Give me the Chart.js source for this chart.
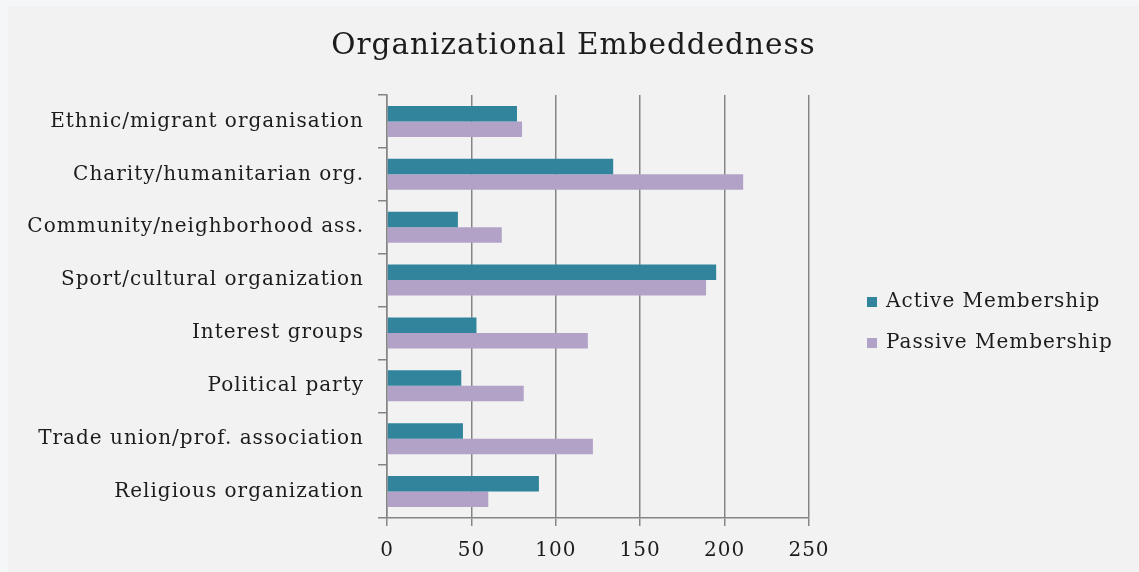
<!DOCTYPE html>
<html>
<head>
<meta charset="utf-8">
<title>Organizational Embeddedness</title>
<script src="https://cdn.jsdelivr.net/npm/chart.js@4"></script>
<style>
  html, body { margin: 0; padding: 0; background: #f5f6f8; }
  #frame { position: absolute; left: 8px; top: 6px; width: 1131px; height: 566px; background: #f2f2f2; }
</style>
</head>
<body>
<div id="frame"><canvas id="chart" width="1131" height="566"></canvas></div>
<script>
const categories = [
  "Ethnic/migrant organisation",
  "Charity/humanitarian org.",
  "Community/neighborhood ass.",
  "Sport/cultural organization",
  "Interest groups",
  "Political party",
  "Trade union/prof. association",
  "Religious organization",
];
const activeMembership = [77, 134, 42, 195, 53, 44, 45, 90];
const passiveMembership = [80, 211, 68, 189, 119, 81, 122, 60];
const xTicks = [0, 50, 100, 150, 200, 250];

const serif = '"DejaVu Serif", "Liberation Serif", serif';
const ink = "#1c1c1c";
const gridGray = "#858585";

// wider letter spacing for all canvas text
const spacedText = {
  id: "spacedText",
  beforeDraw(chart) {
    chart.ctx.letterSpacing = "1px";
  },
};

// centre the title over the whole canvas, not just the plot side
const wideTitle = {
  id: "wideTitle",
  afterLayout(chart) {
    if (chart.titleBlock) {
      chart.titleBlock.left = 0;
      chart.titleBlock.right = chart.width;
    }
  },
};

// legend on the right, drawn next to the plot
const sideLegend = {
  id: "sideLegend",
  afterDraw(chart) {
    const ctx = chart.ctx;
    const x = chart.chartArea.right + 58;
    ctx.save();
    ctx.letterSpacing = "1px";
    ctx.font = "20px " + serif;
    ctx.textBaseline = "middle";
    chart.data.datasets.forEach((ds, i) => {
      const y = 296 + i * 41;
      ctx.fillStyle = ds.backgroundColor;
      ctx.fillRect(x, y - 5, 10, 10);
      ctx.fillStyle = ink;
      ctx.fillText(ds.label, x + 19, y);
    });
    ctx.restore();
  },
};

new Chart(document.getElementById("chart"), {
  type: "bar",
  data: {
    labels: categories,
    datasets: [
      {
        label: "Active Membership",
        data: activeMembership,
        backgroundColor: "#31849b",
        barPercentage: 1,
        categoryPercentage: 0.588,
      },
      {
        label: "Passive Membership",
        data: passiveMembership,
        backgroundColor: "#b3a2c7",
        barPercentage: 1,
        categoryPercentage: 0.588,
      },
    ],
  },
  options: {
    indexAxis: "y",
    responsive: false,
    animation: false,
    layout: { padding: { right: 330, left: 0, top: 0, bottom: 0 } },
    plugins: {
      legend: { display: false },
      tooltip: { enabled: false },
      title: {
        display: true,
        text: "Organizational Embeddedness",
        color: ink,
        font: { family: serif, size: 29.5, weight: "normal" },
        padding: { top: 23, bottom: 30.6 },
      },
    },
    scales: {
      x: {
        min: 0,
        max: 250,
        afterFit: (s) => { s.height = 54; },
        afterBuildTicks: (s) => { s.ticks = xTicks.map((v) => ({ value: v })); },
        grid: { color: gridGray, tickLength: 8, lineWidth: 1.5 },
        border: { color: gridGray, width: 1.5 },
        ticks: { color: ink, padding: 13, font: { family: serif, size: 20 } },
      },
      y: {
        afterFit: (s) => { s.width = 379; },
        grid: { drawOnChartArea: false, drawTicks: true, tickLength: 9, color: gridGray, lineWidth: 1.5, offset: true },
        border: { color: gridGray, width: 1.5 },
        ticks: { color: ink, padding: 14, font: { family: serif, size: 20 } },
      },
    },
  },
  plugins: [spacedText, wideTitle, sideLegend],
});
</script>
</body>
</html>
